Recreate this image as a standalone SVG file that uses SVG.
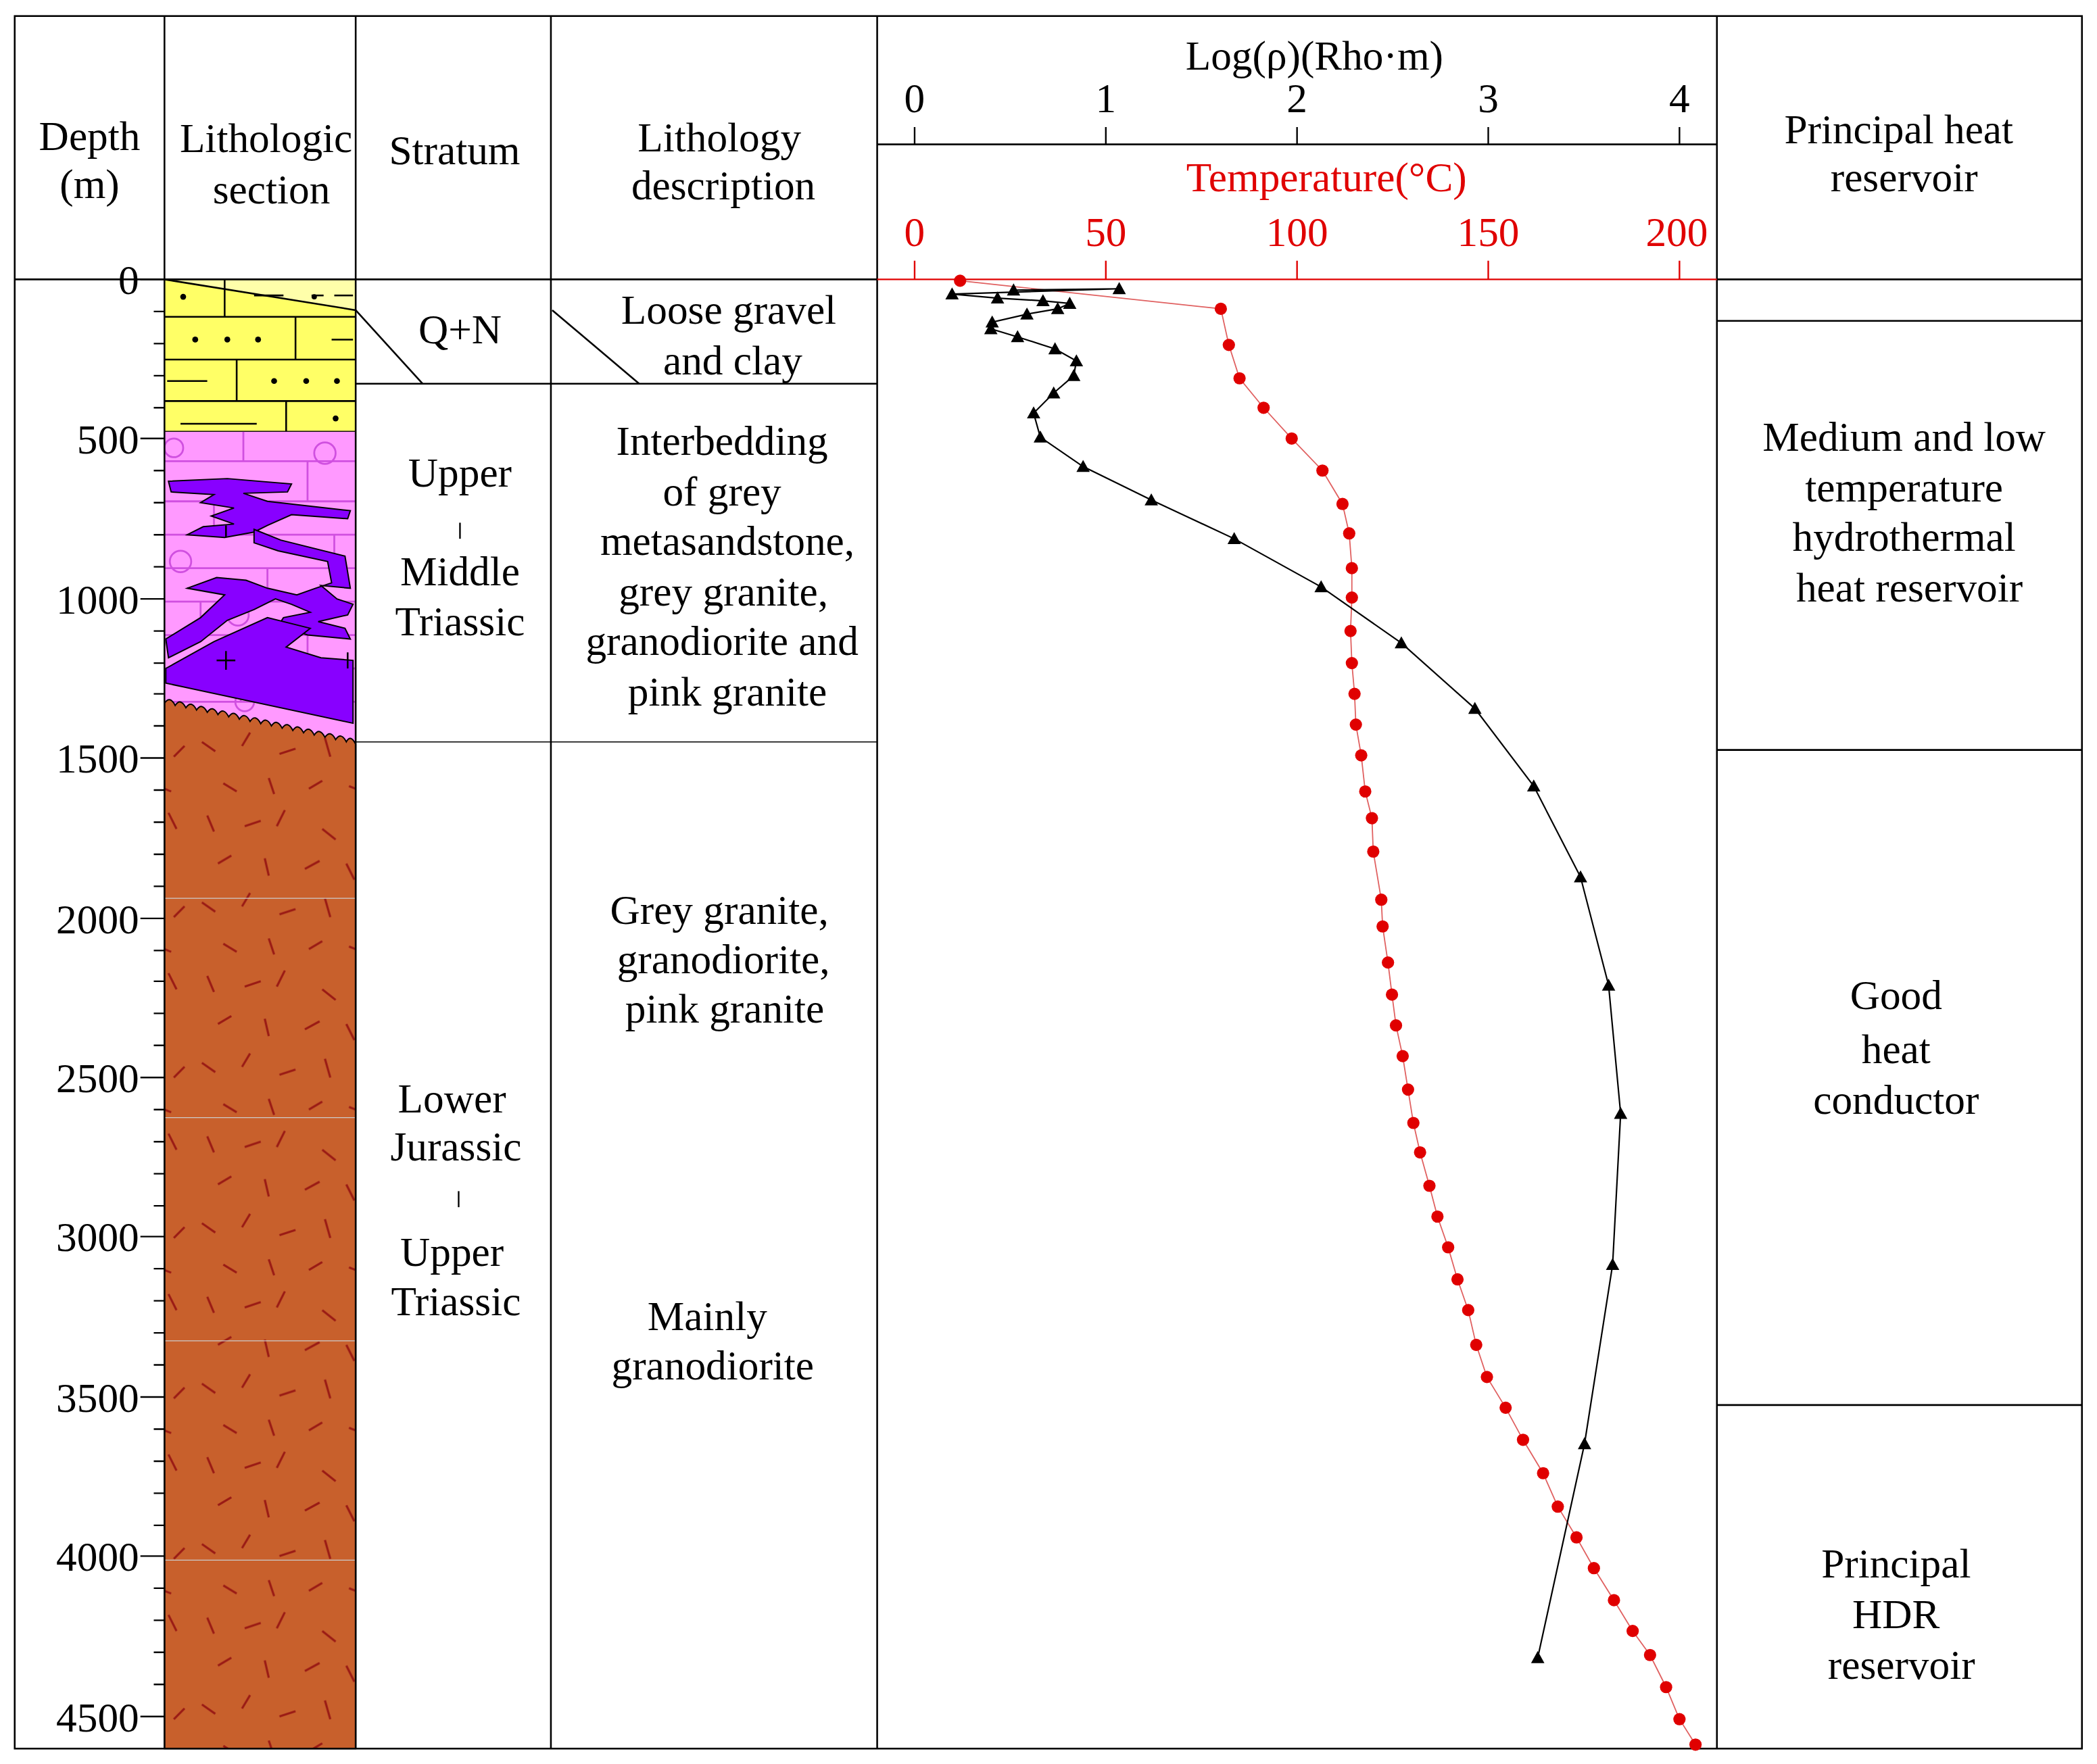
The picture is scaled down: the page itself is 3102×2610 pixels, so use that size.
<svg xmlns="http://www.w3.org/2000/svg" width="3102" height="2610" viewBox="0 0 3102 2610">
<style>
text{font-family:"Liberation Serif","Times New Roman",serif;font-size:31px;fill:#000;text-anchor:middle}
.r{fill:#e00000}
.e{text-anchor:end}
.ln{stroke:#000;stroke-width:1.3;fill:none}
.tk{stroke:#000;stroke-width:1.2}
.rk{stroke:#e00000;stroke-width:1.2}
.pb{stroke:#d050e0;stroke-width:1.4;fill:none}
</style>
<defs>
<pattern id="brn" width="143" height="120" patternUnits="userSpaceOnUse">
<rect width="143" height="120" fill="#c8602c"/>
<g stroke="#9a1a14" stroke-width="1.6">
<line x1="12" y1="10" x2="17" y2="22"/><line x1="40" y1="18" x2="52" y2="14"/><line x1="70" y1="6" x2="64" y2="18"/><line x1="98" y1="20" x2="108" y2="28"/><line x1="126" y1="8" x2="132" y2="20"/>
<line x1="20" y1="46" x2="30" y2="40"/><line x1="55" y1="42" x2="58" y2="55"/><line x1="85" y1="50" x2="96" y2="44"/><line x1="116" y1="46" x2="122" y2="58"/>
<line x1="8" y1="75" x2="18" y2="82"/><line x1="38" y1="78" x2="44" y2="68"/><line x1="66" y1="84" x2="78" y2="80"/><line x1="100" y1="72" x2="104" y2="86"/><line x1="130" y1="86" x2="138" y2="78"/>
<line x1="24" y1="106" x2="34" y2="112"/><line x1="58" y1="102" x2="62" y2="114"/><line x1="88" y1="110" x2="98" y2="104"/><line x1="118" y1="108" x2="128" y2="112"/>
</g>
</pattern>
<marker id="tri" markerWidth="12" markerHeight="12" refX="6" refY="6" markerUnits="userSpaceOnUse"><path d="M6 1 L11 10 L1 10 Z" fill="#000"/></marker>
<marker id="dot" markerWidth="12" markerHeight="12" refX="6" refY="6" markerUnits="userSpaceOnUse"><circle cx="6" cy="6" r="4.6" fill="#e00000"/></marker>
</defs>
<rect width="3102" height="2610" fill="#fff"/>
<g transform="scale(1.978)">
<g id="lithology">
<rect x="123" y="209" width="143" height="114" fill="#ffff66"/>
<polygon points="123,209 266,232 266,209" fill="#ffffaa"/>
<g class="ln">
<line x1="123" y1="209" x2="266" y2="232"/>
<line x1="123" y1="237" x2="266" y2="237"/><line x1="123" y1="269" x2="266" y2="269"/><line x1="123" y1="300" x2="266" y2="300"/><line x1="123" y1="323" x2="266" y2="323"/>
<line x1="168" y1="209" x2="168" y2="237"/><line x1="221" y1="237" x2="221" y2="269"/><line x1="177" y1="269" x2="177" y2="300"/><line x1="214" y1="300" x2="214" y2="323"/>
<line x1="190" y1="221" x2="212" y2="221"/><line x1="233" y1="221" x2="242" y2="221"/><line x1="250" y1="221" x2="264" y2="221"/><line x1="248" y1="254" x2="264" y2="254"/><line x1="125" y1="285" x2="155" y2="285"/><line x1="135" y1="317" x2="192" y2="317"/>
</g>
<g fill="#000"><circle cx="137" cy="222" r="2.2"/><circle cx="235" cy="222" r="2"/><circle cx="146" cy="254" r="2.2"/><circle cx="170" cy="254" r="2.2"/><circle cx="193" cy="254" r="2.2"/><circle cx="205" cy="285" r="2.2"/><circle cx="229" cy="285" r="2.2"/><circle cx="252" cy="285" r="2.2"/><circle cx="251" cy="313" r="2.2"/></g>
<rect x="123" y="323" width="143" height="234" fill="#ff99ff"/>
<g class="pb">
<line x1="123" y1="345" x2="266" y2="345"/><line x1="123" y1="375" x2="266" y2="375"/><line x1="123" y1="400" x2="266" y2="400"/><line x1="123" y1="425" x2="266" y2="425"/><line x1="123" y1="450" x2="266" y2="450"/><line x1="123" y1="475" x2="266" y2="475"/><line x1="123" y1="500" x2="266" y2="500"/><line x1="123" y1="525" x2="266" y2="525"/>
<line x1="182" y1="323" x2="182" y2="345"/><line x1="230" y1="345" x2="230" y2="375"/><line x1="160" y1="375" x2="160" y2="400"/><line x1="250" y1="400" x2="250" y2="425"/><line x1="200" y1="425" x2="200" y2="450"/><line x1="150" y1="450" x2="150" y2="475"/><line x1="230" y1="475" x2="230" y2="500"/><line x1="180" y1="500" x2="180" y2="525"/>
<circle cx="243" cy="339" r="8"/><circle cx="135" cy="420" r="8"/><circle cx="178" cy="460" r="8"/><circle cx="245" cy="455" r="8"/><circle cx="183" cy="525" r="7"/><circle cx="130" cy="335" r="7"/>
</g>
<g fill="#8800ff" stroke="#000" stroke-width="1">
<path d="M126,360 L170,358 L218,362 L215,368 L182,369 L200,375 L262,382 L260,388 L218,385 L200,393 L190,398 L168,402 L140,400 L152,394 L175,392 L158,386 L175,380 L150,376 L160,370 L128,368 Z"/>
<path d="M190,396 L210,404 L258,416 L262,440 L240,438 L252,448 L264,452 L260,460 L238,465 L258,470 L262,478 L230,475 L208,468 L212,462 L232,458 L218,452 L206,448 L190,456 L170,464 L150,480 L126,492 L124,478 L150,462 L168,445 L140,440 L162,432 L184,434 L200,440 L222,445 L236,440 L248,436 L245,420 L208,412 L190,406 Z"/>
<path d="M124,500 L160,480 L200,462 L232,470 L214,484 L240,492 L264,494 L264,541 L124,511 Z"/>
</g>
<g class="ln"><line x1="162" y1="494" x2="176" y2="494"/><line x1="169" y1="487" x2="169" y2="501"/><line x1="169" y1="393" x2="169" y2="402"/><line x1="260" y1="488" x2="260" y2="500"/></g>
<path d="M123,526 q4,-6 8,1.7 q4,-6 8,1.7 q4,-6 8,1.7 q4,-6 8,1.7 q4,-6 8,1.7 q4,-6 8,1.7 q4,-6 8,1.7 q4,-6 8,1.7 q4,-6 8,1.7 q4,-6 8,1.7 q4,-6 8,1.7 q4,-6 8,1.7 q4,-6 8,1.7 q4,-6 8,1.7 q4,-6 8,1.7 q4,-6 8,1.7 q4,-6 8,1.7 q3,-6 7,1.7 L266,1308 L123,1308 Z" fill="url(#brn)" stroke="#000" stroke-width="1"/>
<g stroke="#ccc" stroke-width="0.6"><line x1="123" y1="672" x2="266" y2="672"/><line x1="123" y1="836" x2="266" y2="836"/><line x1="123" y1="1003" x2="266" y2="1003"/><line x1="123" y1="1167" x2="266" y2="1167"/></g>
</g>
<g id="frame" fill="none" stroke="#000" stroke-width="1.3">
<rect x="11" y="12" width="1546" height="1296"/>
<line x1="123" y1="12" x2="123" y2="1308"/><line x1="266" y1="12" x2="266" y2="1308"/><line x1="412" y1="12" x2="412" y2="1308"/><line x1="656" y1="12" x2="656" y2="1308"/><line x1="1284" y1="12" x2="1284" y2="1308"/>
<line x1="11" y1="209" x2="656" y2="209"/><line x1="1284" y1="209" x2="1557" y2="209"/>
<line x1="656" y1="108" x2="1284" y2="108"/>
<line x1="266" y1="287" x2="656" y2="287"/><line x1="266" y1="555" x2="656" y2="555" stroke-width="0.8"/>
<line x1="266" y1="232" x2="316" y2="287"/><line x1="413" y1="232" x2="478" y2="287"/>
<line x1="1284" y1="240" x2="1557" y2="240"/><line x1="1284" y1="561" x2="1557" y2="561"/><line x1="1284" y1="1051" x2="1557" y2="1051"/>
</g>
<g id="depth-axis">
<path class="tk" d="M105,209H123 M115,233H123 M115,257H123 M115,281H123 M115,305H123 M105,328H123 M115,352H123 M115,376H123 M115,400H123 M115,424H123 M105,448H123 M115,472H123 M115,496H123 M115,519H123 M115,543H123 M105,567H123 M115,591H123 M115,615H123 M115,639H123 M115,663H123 M105,687H123 M115,711H123 M115,734H123 M115,758H123 M115,782H123 M105,806H123 M115,830H123 M115,854H123 M115,878H123 M115,902H123 M105,925H123 M115,949H123 M115,973H123 M115,997H123 M115,1021H123 M105,1045H123 M115,1069H123 M115,1093H123 M115,1117H123 M115,1141H123 M105,1164H123 M115,1188H123 M115,1212H123 M115,1236H123 M115,1260H123 M105,1284H123"/>
<g><text class="e" x="104" y="220">0</text><text class="e" x="104" y="339">500</text><text class="e" x="104" y="459">1000</text><text class="e" x="104" y="578">1500</text><text class="e" x="104" y="698">2000</text><text class="e" x="104" y="817">2500</text><text class="e" x="104" y="936">3000</text><text class="e" x="104" y="1056">3500</text><text class="e" x="104" y="1175">4000</text><text class="e" x="104" y="1295">4500</text></g>
</g>
<g id="headers">
<text x="67" y="112">Depth</text><text x="67" y="148">(m)</text>
<text x="199" y="114">Lithologic</text><text x="203" y="152">section</text>
<text x="340" y="123">Stratum</text>
<text x="538" y="113">Lithology</text><text x="541" y="149">description</text>
<text x="1420" y="107">Principal heat</text><text x="1424" y="143">reservoir</text>
</g>
<g id="stratum">
<text x="344" y="257">Q+N</text>
<text x="344" y="364">Upper</text><line class="tk" x1="344" y1="391" x2="344" y2="403"/><text x="344" y="438">Middle</text><text x="344" y="475">Triassic</text>
<text x="338" y="832">Lower</text><text x="341" y="868">Jurassic</text><line class="tk" x1="343" y1="891" x2="343" y2="903"/><text x="338" y="947">Upper</text><text x="341" y="984">Triassic</text>
</g>
<g id="description">
<text x="545" y="242">Loose gravel</text><text x="548" y="280">and clay</text>
<text x="540" y="340">Interbedding</text><text x="540" y="378">of grey</text><text x="544" y="415">metasandstone,</text><text x="541" y="453">grey granite,</text><text x="540" y="490">granodiorite and</text><text x="544" y="528">pink granite</text>
<text x="538" y="691">Grey granite,</text><text x="541" y="728">granodiorite,</text><text x="542" y="765">pink granite</text>
<text x="529" y="995">Mainly</text><text x="533" y="1032">granodiorite</text>
</g>
<g id="zones">
<text x="1424" y="337">Medium and low</text><text x="1424" y="375">temperature</text><text x="1424" y="412">hydrothermal</text><text x="1428" y="450">heat reservoir</text>
<text x="1418" y="755">Good</text><text x="1418" y="795">heat</text><text x="1418" y="833">conductor</text>
<text x="1418" y="1180">Principal</text><text x="1418" y="1218">HDR</text><text x="1422" y="1256">reservoir</text>
</g>
<g id="log-axis">
<text x="983" y="52">Log(ρ)(Rho·m)</text>
<text x="684" y="84">0</text><text x="827" y="84">1</text><text x="970" y="84">2</text><text x="1113" y="84">3</text><text x="1256" y="84">4</text>
<path class="tk" d="M684,95V108 M827,95V108 M970,95V108 M1113,95V108 M1256,95V108"/>
</g>
<g id="temp-axis">
<text class="r" x="992" y="143">Temperature(°C)</text>
<text class="r" x="684" y="184">0</text><text class="r" x="827" y="184">50</text><text class="r" x="970" y="184">100</text><text class="r" x="1113" y="184">150</text><text class="r" x="1254" y="184">200</text>
<path class="rk" d="M684,195V209 M827,195V209 M970,195V209 M1113,195V209 M1256,195V209 M656,209H1284"/>
</g>
<g id="connectors">
<polyline fill="none" stroke="#e06060" stroke-width="0.9" marker-start="url(#dot)" marker-mid="url(#dot)" marker-end="url(#dot)" points="718,210 913,231 919,258 927,283 945,305 966,328 989,352 1004,377 1009,399 1011,425 1011,447 1010,472 1011,496 1013,519 1014,542 1018,565 1021,592 1026,612 1027,637 1033,673 1034,693 1038,720 1041,744 1044,767 1049,790 1053,815 1057,840 1062,862 1069,887 1075,910 1083,933 1090,957 1098,980 1104,1006 1112,1030 1126,1053 1139,1077 1154,1102 1165,1127 1179,1150 1192,1173 1207,1197 1221,1220 1234,1238 1246,1262 1256,1286 1268,1305"/>
<polyline fill="none" stroke="#000" stroke-width="1.1" marker-start="url(#tri)" marker-mid="url(#tri)" marker-end="url(#tri)" points="758,217 837,216 712,220 746,223 780,225 800,227 791,231 768,235 742,241 741,246 761,252 789,261 805,270 803,281 788,294 773,309 778,327 810,349 861,374 923,403 988,439 1048,481 1103,530 1147,588 1182,656 1203,737 1212,833 1206,946 1185,1080 1150,1240"/>
</g>
</g>
</svg>
